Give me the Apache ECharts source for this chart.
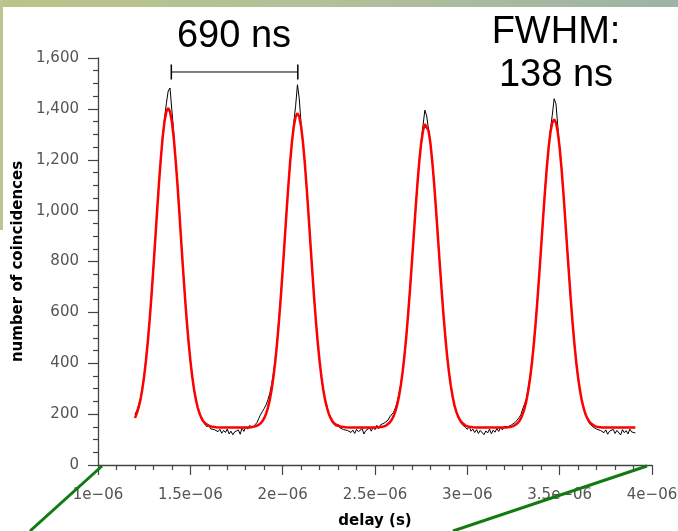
<!DOCTYPE html>
<html>
<head>
<meta charset="utf-8">
<script src="https://cdn.jsdelivr.net/npm/echarts@6/dist/echarts.min.js"></script>
<style>
html, body { margin: 0; padding: 0; background: #fff; }
#chart { width: 678px; height: 531px; }
</style>
</head>
<body>
<div id="chart"></div>
<script>
// delay grid: first bin and bin width, in microseconds (axis labels are in seconds)
var delayStart = 1.20;
var delayStep = 0.01;

// measured coincidences per delay bin
var measured = [
	198,214,236,262,305,352,418,490,580,662,
	781,880,1004,1110,1196,1295,1362,1420,1470,1482,
	1395,1310,1198,1112,1005,879,770,676,565,492,
	405,356,290,262,218,207,180,168,171,150,
	158,142,147,139,144,131,140,125,136,128,
	141,122,133,119,130,126,138,121,145,132,
	150,141,155,150,147,158,166,182,198,210,
	222,236,256,281,316,362,418,490,575,666,
	770,868,990,1085,1192,1262,1345,1410,1495,1440,
	1338,1260,1192,1082,990,868,772,655,572,475,
	412,340,301,250,232,196,190,165,170,152,
	160,146,150,139,144,136,142,128,137,124,
	140,131,127,143,122,135,129,146,133,150,
	139,156,143,158,152,165,170,176,189,195,
	207,224,248,282,320,372,440,505,604,690,
	805,898,1015,1102,1200,1272,1335,1395,1372,1318,
	1270,1188,1115,1002,910,792,700,592,516,428,
	372,308,276,228,214,186,180,160,165,148,
	140,152,133,141,128,139,124,136,130,119,
	134,126,141,123,137,129,144,132,148,138,
	152,145,150,147,158,155,168,172,186,198,
	221,240,262,305,350,410,482,562,660,748,
	866,962,1078,1172,1240,1320,1375,1440,1420,1330,
	1240,1172,1065,975,855,760,646,563,470,408,
	335,298,248,226,194,186,164,168,150,155,
	141,147,136,142,127,138,121,133,129,140,
	124,136,131,118,139,127,135,122,141,130,
	137,126
];

// fitted curve on the same grid
var fitted = [
	185,202,226,257,298,349,412,487,573,670,
	776,886,998,1106,1203,1287,1350,1389,1403,1389,
	1350,1287,1203,1106,998,886,776,670,573,487,
	412,349,298,257,226,202,185,172,164,158,
	154,151,150,149,148,147,147,147,147,147,
	147,147,147,147,147,147,147,147,147,147,
	147,147,147,149,150,151,154,158,163,172,
	184,201,225,255,295,346,407,481,566,661,
	765,874,984,1090,1186,1268,1330,1369,1382,1369,
	1330,1268,1186,1090,984,874,765,661,566,481,
	407,346,295,255,225,201,184,172,163,158,
	154,151,150,149,148,147,147,147,147,147,
	147,147,147,147,147,147,147,147,147,147,
	147,147,148,149,150,152,155,160,167,177,
	191,210,236,270,314,368,433,510,598,695,
	798,904,1009,1108,1195,1265,1314,1340,1340,1314,
	1265,1195,1108,1009,904,798,695,598,510,433,
	368,314,270,236,210,191,177,167,160,155,
	152,150,149,148,147,147,147,147,147,147,
	147,147,147,147,147,147,147,147,147,147,
	147,147,148,149,151,153,157,163,171,183,
	200,223,253,293,342,402,475,558,652,754,
	860,968,1072,1166,1247,1308,1346,1359,1346,1308,
	1247,1166,1072,968,860,754,652,558,475,402,
	342,293,253,223,200,183,171,163,157,153,
	151,149,148,147,147,147,147,147,147,147,
	147,147,147,147,147,147,147,147,147,147,
	147,147
];

// bracket between the first two peaks (690 ns)
var bracketX = [1.397, 2.082];
var bracketY = 1545;

var yTicks = [0, 1600, 200];
var xTicks = [1, 4, 0.5];

function toPairs(vals) {
	var out = [];
	for (var i = 0; i < vals.length; i++) {
		out.push([+(delayStart + i * delayStep).toFixed(3), vals[i]]);
	}
	return out;
}

var labelFont = 'DejaVu Sans';
var bigFont = 'Liberation Sans';

var myChart = echarts.init(document.getElementById('chart'), null, {renderer: 'canvas'});

var option = {
	backgroundColor: '#ffffff',
	animation: false,
	grid: {
		left: 98,
		right: 26,
		top: 58,
		bottom: 66,
		containLabel: false,
		outerBoundsMode: 'none'
	},
	xAxis: {
		type: 'value',
		min: xTicks[0],
		max: xTicks[1],
		interval: xTicks[2],
		name: 'delay (s)',
		nameLocation: 'middle',
		nameGap: 49,
		nameTextStyle: {
			color: '#000',
			fontFamily: labelFont,
			fontWeight: 'bold',
			fontSize: 15
		},
		axisLine: {
			lineStyle: { color: '#444', width: 1.3 }
		},
		axisTick: {
			length: 10,
			lineStyle: { color: '#444', width: 1.2 }
		},
		minorTick: {
			show: true,
			splitNumber: 5,
			length: 5,
			lineStyle: { color: '#444', width: 1.2 }
		},
		axisLabel: {
			color: '#555',
			fontFamily: labelFont,
			fontSize: 15,
			margin: 23,
			formatter: function(v) {
				return (Math.round(v * 10) / 10) + 'e\u221206';
			}
		},
		splitLine: { show: false }
	},
	yAxis: {
		type: 'value',
		min: yTicks[0],
		max: yTicks[1],
		interval: yTicks[2],
		name: 'number of coincidences',
		nameLocation: 'middle',
		nameGap: 69,
		nameTextStyle: {
			color: '#000',
			fontFamily: labelFont,
			fontWeight: 'bold',
			fontSize: 15
		},
		axisLine: {
			show: true,
			lineStyle: { color: '#444', width: 1.3 }
		},
		axisTick: {
			show: true,
			length: 10,
			lineStyle: { color: '#444', width: 1.2 }
		},
		minorTick: {
			show: true,
			splitNumber: 4,
			length: 5,
			lineStyle: { color: '#444', width: 1.2 }
		},
		axisLabel: {
			color: '#555',
			fontFamily: labelFont,
			fontSize: 15,
			margin: 19,
			formatter: function(v) {
				return v.toLocaleString('en-US');
			}
		},
		splitLine: { show: false }
	},
	series: [{
		name: 'measured',
		type: 'line',
		data: toPairs(measured),
		showSymbol: false,
		lineStyle: { color: '#000', width: 1 },
		z: 2
	}, {
		name: 'fit',
		type: 'line',
		data: toPairs(fitted),
		showSymbol: false,
		lineStyle: { color: '#ff0000', width: 2.5 },
		z: 3
	}, {
		name: 'bracket',
		type: 'line',
		data: [[bracketX[0], bracketY], [bracketX[1], bracketY]],
		symbol: 'rect',
		symbolSize: [1.5, 15],
		itemStyle: { color: '#000' },
		lineStyle: { color: '#000', width: 1 },
		z: 4
	}],
	graphic: [{
		type: 'rect',
		shape: { x: 0, y: 0, width: 678, height: 7 },
		style: {
			fill: new echarts.graphic.LinearGradient(0, 0, 1, 0, [
				{ offset: 0, color: '#bac489' },
				{ offset: 0.5, color: '#b2bf9a' },
				{ offset: 1, color: '#9cb4a6' }
			])
		},
		z: 10
	}, {
		type: 'rect',
		shape: { x: 0, y: 0, width: 3, height: 230 },
		style: { fill: '#bcc690' },
		z: 10
	}, {
		type: 'text',
		style: {
			text: '690 ns',
			x: 234,
			y: 37,
			align: 'center',
			verticalAlign: 'middle',
			font: '38px "' + bigFont + '"',
			fill: '#000'
		},
		z: 10
	}, {
		type: 'text',
		style: {
			text: 'FWHM:',
			x: 556,
			y: 33,
			align: 'center',
			verticalAlign: 'middle',
			font: '38px "' + bigFont + '"',
			fill: '#000'
		},
		z: 10
	}, {
		type: 'text',
		style: {
			text: '138 ns',
			x: 556,
			y: 76,
			align: 'center',
			verticalAlign: 'middle',
			font: '38px "' + bigFont + '"',
			fill: '#000'
		},
		z: 10
	}, {
		type: 'line',
		shape: { x1: 30, y1: 531, x2: 102, y2: 466 },
		style: { stroke: '#127a12', lineWidth: 3 },
		z: 10
	}, {
		type: 'line',
		shape: { x1: 453, y1: 531, x2: 647, y2: 466 },
		style: { stroke: '#127a12', lineWidth: 3 },
		z: 10
	}]
};

myChart.setOption(option);
</script>
</body>
</html>
